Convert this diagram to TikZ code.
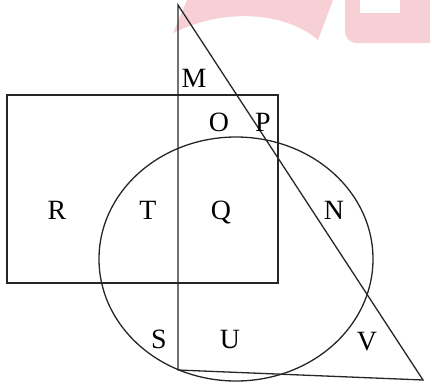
\documentclass[tikz,border=0pt]{standalone}
\usepackage{fontspec}
\setmainfont{Liberation Serif}
\usetikzlibrary{calc}

\begin{document}
\begin{tikzpicture}[
  x=1bp, y=-1bp,
  line width=1.3bp,
  edge/.style={draw=black!85},
  lbl/.style={font=\fontsize{28}{30}\selectfont, inner sep=0pt, anchor=base},
  wm/.style={fill={rgb,255:red,247;green,208;blue,213}},
]
\useasboundingbox (0,0) rectangle (432,385);

% Watermark
\fill[wm] (173,33) -- (187,0) -- (333,0) -- (318,40)
  .. controls (290,15) and (230,5) .. (173,33) -- cycle;
\fill[wm] (345,0) -- (430,0) -- (430,43) -- (358,43)
  .. controls (349,43) and (345,38) .. (345,30) -- cycle;
\fill[white] (360,0) rectangle (400,13);

% Triangle
\coordinate (apex) at (178,5);
\coordinate (foot) at (178,370);
\coordinate (tip)  at (423,380);
\draw[edge] (apex) -- (foot) -- (tip) -- cycle;

% Rectangle
\coordinate (rtl) at (7,95);
\coordinate (rbr) at (278,283);
\draw[edge] (rtl) rectangle (rbr);

% Ellipse
\coordinate (ctr) at (236,259);
\draw[edge] (ctr) ellipse [x radius=137bp, y radius=122bp];

% Labels
\node[lbl] (M) at (194,87)  {M};
\node[lbl] (O) at (219,131) {O};
\node[lbl] (P) at (263,131) {P};
\node[lbl] (R) at (57,219)  {R};
\node[lbl] (T) at (148,219) {T};
\node[lbl] (Q) at (221,219) {Q};
\node[lbl] (N) at (334,219) {N};
\node[lbl] (S) at (159,348) {S};
\node[lbl] (U) at (230,348) {U};
\node[lbl] (V) at (367,350) {V};

\end{tikzpicture}
\end{document}
